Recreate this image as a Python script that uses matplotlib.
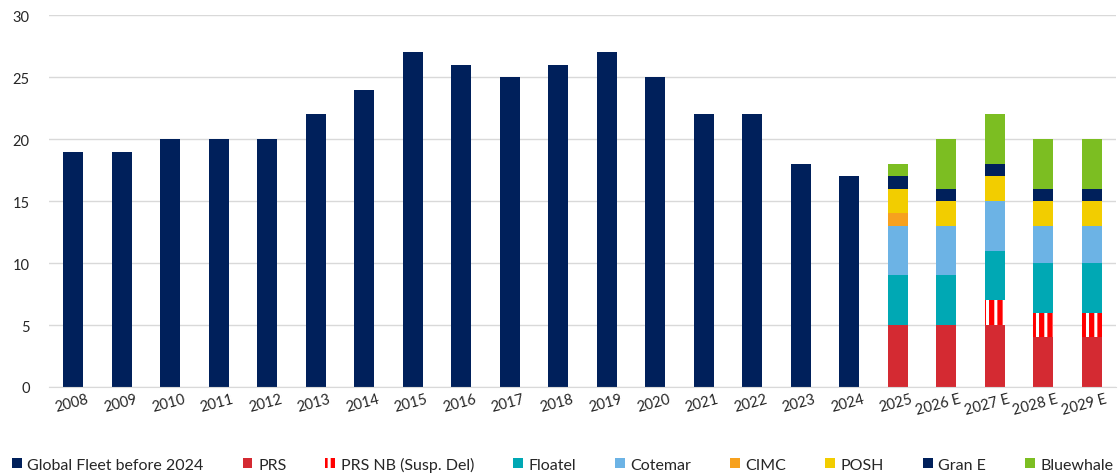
import matplotlib.pyplot as plt
import matplotlib.transforms as mtrans
from matplotlib.patches import Patch
import numpy as np

plt.rcParams['font.family'] = ['Lato', 'DejaVu Sans']
plt.rcParams['hatch.linewidth'] = 2.2

# history
hist_years = ['2008', '2009', '2010', '2011', '2012', '2013', '2014', '2015', '2016',
              '2017', '2018', '2019', '2020', '2021', '2022', '2023', '2024']
fleet = [19, 19, 20, 20, 20, 22, 24, 27, 26, 25, 26, 27, 25, 22, 22, 18, 17]

# forecast, stacked
fc_years = ['2025', '2026 E', '2027 E', '2028 E', '2029 E']
prs = [5, 5, 5, 4, 4]
prs_nb = [0, 0, 2, 2, 2]
floatel = [4, 4, 4, 4, 4]
cotemar = [4, 4, 4, 3, 3]
cimc = [1, 0, 0, 0, 0]
posh = [2, 2, 2, 2, 2]
gran_e = [1, 1, 1, 1, 1]
bluewhale = [1, 4, 4, 4, 4]

navy = '#00205B'
colors = {
    'PRS': '#D42A32',
    'Floatel': '#00A8B4',
    'Cotemar': '#6CB3E5',
    'CIMC': '#F7A11E',
    'POSH': '#F2CD00',
    'Gran E': navy,
    'Bluewhale': '#7CBE22',
}

fig = plt.figure(figsize=(11.19, 4.77), dpi=100)
ax = fig.add_axes([0.0438, 0.1866, 0.9535, 0.7794])

labels = hist_years + fc_years
x_hist = np.arange(len(hist_years))
x_fc = np.arange(len(hist_years), len(labels))
w = 0.42

ax.bar(x_hist, fleet, w, color=navy, zorder=2)

bottom = np.zeros(len(fc_years))
stack = [('PRS', prs), ('PRS NB (Susp. Del)', prs_nb), ('Floatel', floatel),
         ('Cotemar', cotemar), ('CIMC', cimc), ('POSH', posh),
         ('Gran E', gran_e), ('Bluewhale', bluewhale)]
for name, vals in stack:
    vals = np.array(vals, dtype=float)
    if name.startswith('PRS NB'):
        ax.bar(x_fc, vals, w, bottom=bottom, facecolor='#FF0000',
               edgecolor='white', hatch='||', linewidth=0, zorder=2)
    else:
        ax.bar(x_fc, vals, w, bottom=bottom, color=colors[name], zorder=2)
    bottom += vals

ax.set_ylim(0, 30)
ax.set_xlim(-0.5, len(labels) - 0.5)
ax.set_yticks(range(0, 31, 5))
ax.grid(axis='y', color='#D9D9D9', linewidth=1, zorder=0)
for s in ['top', 'right', 'left']:
    ax.spines[s].set_visible(False)
ax.spines['bottom'].set_color('#D9D9D9')
ax.tick_params(length=0, labelsize=10.5, colors='#262626')
ax.tick_params(axis='y', pad=14)
ax.set_xticks(np.arange(len(labels)))
ax.set_xticklabels(labels, rotation=15, ha='right', rotation_mode='anchor')
off = mtrans.ScaledTranslation(0.13, 0, fig.dpi_scale_trans)
for t in ax.get_xticklabels():
    t.set_transform(t.get_transform() + off)

handles = [Patch(facecolor=navy, label='Global Fleet before 2024'),
           Patch(facecolor=colors['PRS'], label='PRS'),
           Patch(facecolor='#FF0000', edgecolor='white', hatch='||', linewidth=0,
                 label='PRS NB (Susp. Del)'),
           Patch(facecolor=colors['Floatel'], label='Floatel'),
           Patch(facecolor=colors['Cotemar'], label='Cotemar'),
           Patch(facecolor=colors['CIMC'], label='CIMC'),
           Patch(facecolor=colors['POSH'], label='POSH'),
           Patch(facecolor=colors['Gran E'], label='Gran E'),
           Patch(facecolor=colors['Bluewhale'], label='Bluewhale')]
fig.legend(handles=handles, loc='center', bbox_to_anchor=(0.503, 0.025), ncol=9,
           frameon=False, fontsize=11.5, handlelength=0.6, handleheight=0.6,
           handletextpad=0.35, columnspacing=2.45, labelcolor='#262626')

fig.savefig('out.png', dpi=100)
